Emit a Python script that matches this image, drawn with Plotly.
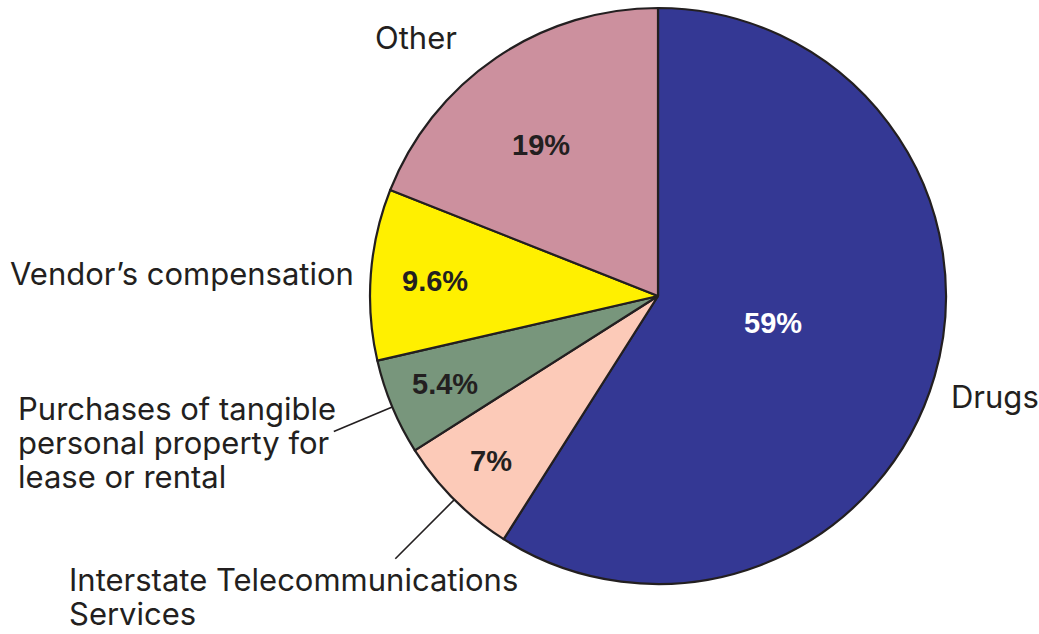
import math
import plotly.graph_objects as go

# ---------------- data ----------------
categories = [
    "Drugs",
    "Interstate Telecommunications Services",
    "Purchases of tangible personal property for lease or rental",
    "Vendor’s compensation",
    "Other",
]
shares = [59, 7, 5.4, 9.6, 19]

# ---------------- style / layout ----------------
colors = ["#343894", "#FCCAB8", "#78967C", "#FFF000", "#CC909E"]
pct_colors = ["#FFFFFF", "#231F20", "#231F20", "#231F20", "#231F20"]
pct_frac = [0.408, 0.813, 0.799, 0.776, 0.667]   # radial position of % labels
pct_dtheta = [-3.4, 0.5, 0.5, -0.2, -3.5]        # angular nudge (deg)
leader_len = {1: 1.29, 2: 1.22}                  # leader line outer radius (x R)
INK = "#231F20"
W, H = 1039, 634
CX, CY, R = 658, 296, 288   # pie centre and radius (px)
LABEL_FONT = "Inter, 'Liberation Sans', Arial, sans-serif"
PCT_FONT = "'Liberation Sans', Arial, sans-serif"


def px(x):
    return x / W


def py(y):
    return 1 - y / H


total = sum(shares)
mid_angles = []
acc = 0.0
for v in shares:
    mid_angles.append((acc + v / 2) / total * 360.0)
    acc += v


def polar(theta_deg, rr):
    t = math.radians(theta_deg)
    return CX + rr * math.sin(t), CY - rr * math.cos(t)


fig = go.Figure(
    go.Pie(
        labels=categories,
        values=shares,
        sort=False,
        direction="clockwise",
        rotation=0,
        textinfo="none",
        hoverinfo="label+percent",
        marker=dict(colors=colors, line=dict(color=INK, width=2.2)),
        domain=dict(x=[px(CX - R), px(CX + R)], y=[py(CY + R), py(CY - R)]),
        showlegend=False,
    )
)

annotations = []
# percentage labels inside slices
for v, th, fr, dt, c in zip(shares, mid_angles, pct_frac, pct_dtheta, pct_colors):
    x, y = polar(th + dt, fr * R)
    annotations.append(dict(
        x=px(x), y=py(y + 1), xref="paper", yref="paper",
        text=f"{v:g}%", showarrow=False, xanchor="center", yanchor="middle",
        font=dict(family=PCT_FONT, size=29, color=c, weight="bold"),
    ))

# outside category labels (each line positioned separately)
label_lines = [
    # (text, x px, y px (cap centre), xanchor)
    ("Drugs", 949, 395, "left"),
    ("Interstate Telecommunications", 67, 578, "left"),
    ("Services", 67, 612, "left"),
    ("Purchases of tangible", 16, 407, "left"),
    ("personal property for", 16, 441, "left"),
    ("lease or rental", 16, 475, "left"),
    ("Vendor’s compensation", 356, 272, "right"),
    ("Other", 416, 37, "center"),
]
for t, x, y, xa in label_lines:
    annotations.append(dict(
        x=px(x), y=py(y + 1), xref="paper", yref="paper",
        text=t, showarrow=False, xanchor=xa, yanchor="middle",
        font=dict(family=LABEL_FONT, size=31, color=INK),
    ))

# leader lines for the two small slices (radial, from slice edge outward)
shapes = []
for idx, k in leader_len.items():
    x0, y0 = polar(mid_angles[idx], R)
    x1, y1 = polar(mid_angles[idx], k * R)
    shapes.append(dict(
        type="line", xref="paper", yref="paper",
        x0=px(x0), y0=py(y0), x1=px(x1), y1=py(y1),
        line=dict(color=INK, width=1.6),
    ))

fig.update_layout(
    width=W, height=H,
    margin=dict(l=0, r=0, t=0, b=0),
    paper_bgcolor="white",
    plot_bgcolor="white",
    annotations=annotations,
    shapes=shapes,
)

fig.write_html(
    "out.html",
    config={"displayModeBar": False},
    post_script="document.body.style.margin='0';document.body.style.overflow='hidden';",
)
